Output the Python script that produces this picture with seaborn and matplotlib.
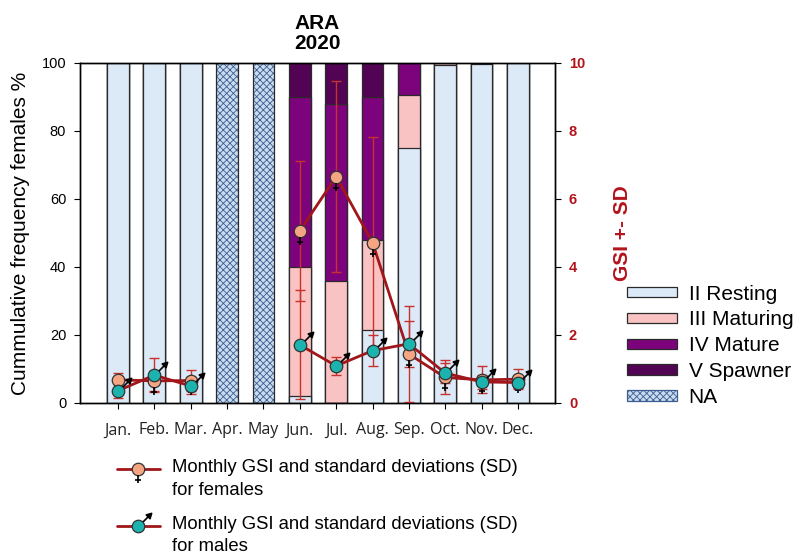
import numpy as np
import pandas as pd
import seaborn as sns
import matplotlib.pyplot as plt
from matplotlib.path import Path
from matplotlib.markers import MarkerStyle
from matplotlib.patches import Patch
from matplotlib.legend_handler import HandlerTuple
from matplotlib.transforms import Affine2D

# data
months = ['Jan.', 'Feb.', 'Mar.', 'Apr.', 'May', 'Jun.', 'Jul.', 'Aug.', 'Sep.', 'Oct.', 'Nov.', 'Dec.']
resting = [100, 100, 100, 0, 0, 2, 0, 21.5, 75, 99.5, 99.6, 100]
maturing = [0, 0, 0, 0, 0, 38, 36, 26.5, 15.5, 0.5, 0.4, 0]
mature = [0, 0, 0, 0, 0, 50, 52, 42, 9.5, 0, 0, 0]
spawner = [0, 0, 0, 0, 0, 10, 12, 10, 0, 0, 0, 0]
no_data = [0, 0, 0, 100, 100, 0, 0, 0, 0, 0, 0, 0]

gsi_f = [0.68, 0.65, 0.66, np.nan, np.nan, 5.06, 6.66, 4.72, 1.44, 0.75, 0.68, 0.70]
sd_f = [0.2, 0.3, 0.3, np.nan, np.nan, 2.05, 2.8, 3.1, 1.41, 0.5, 0.4, 0.3]
gsi_m = [0.36, 0.82, 0.5, np.nan, np.nan, 1.71, 1.09, 1.54, 1.74, 0.88, 0.62, 0.6]
sd_m = [0.2, 0.5, 0.25, np.nan, np.nan, 1.6, 0.27, 0.45, 0.68, 0.3, 0.2, 0.15]

stage_labels = ['II Resting', 'III Maturing', 'IV Mature', 'V Spawner', 'NA']

c_rest = '#dceaf8'
c_matur = '#f9c3c3'
c_mature = '#7d037d'
c_spawn = '#530353'
c_na = '#c9dbef'
c_hatch = '#3d5d90'
edge = '#2a2a2a'
line_c = '#a0161b'
err_c = '#c8322c'
c_fem = '#f4a582'
c_male = '#1cb3ae'
red_txt = '#b3141c'

sns.set_style('ticks')
plt.rcParams['font.family'] = ['Liberation Sans', 'DejaVu Sans']
plt.rcParams['hatch.linewidth'] = 0.6
plt.rcParams['text.color'] = 'black'
plt.rcParams['axes.labelcolor'] = 'black'
plt.rcParams['axes.edgecolor'] = 'black'
plt.rcParams['axes.linewidth'] = 1.0
plt.rcParams['xtick.color'] = 'black'
plt.rcParams['ytick.color'] = 'black'


class RaisedTuple(HandlerTuple):
    # put the legend symbol level with the first line of a two-line label
    def create_artists(self, legend, orig_handle, xdescent, ydescent, width, height,
                       fontsize, trans):
        trans = Affine2D().translate(0, 7) + trans
        return super().create_artists(legend, orig_handle, xdescent, ydescent, width,
                                      height, fontsize, trans)


df = pd.DataFrame({'month': months, 'resting': resting, 'maturing': maturing,
                   'mature': mature, 'spawner': spawner, 'no_data': no_data})
df['c1'] = df.resting
df['c2'] = df.c1 + df.maturing
df['c3'] = df.c2 + df.mature
df['c4'] = df.c3 + df.spawner
staged = df[df.no_data == 0]
na = df[df.no_data > 0]

fig = plt.figure(figsize=(7.97, 5.58), dpi=100)
ax = fig.add_axes([0.1004, 0.2778, 0.596, 0.6093])

# stacked bars by overdrawing cumulative totals
for col, colr in [('c4', c_spawn), ('c3', c_mature), ('c2', c_matur), ('c1', c_rest)]:
    sns.barplot(data=staged, x='month', y=col, order=months, color=colr, saturation=1,
                width=0.6, edgecolor=edge, linewidth=0.9, errorbar=None, ax=ax)

sns.barplot(data=na, x='month', y='no_data', order=months, color=c_na, saturation=1,
            width=0.6, edgecolor=c_hatch, linewidth=0, hatch='xxxxx', errorbar=None, ax=ax)
n = len(ax.patches)
sns.barplot(data=na, x='month', y='no_data', order=months, color=c_na, saturation=1,
            width=0.6, edgecolor=edge, linewidth=0.9, errorbar=None, ax=ax)
for p in ax.patches[n:]:
    p.set_facecolor('none')

ax.set_xlim(-1.045, 12.02)
ax.set_ylim(0, 100)
ax.set_yticks([0, 20, 40, 60, 80, 100])
ax.set_xlabel('')
ax.set_ylabel('Cummulative frequency females %', fontsize=15, labelpad=8)
ax.tick_params(axis='y', labelsize=10.5, length=4, pad=6)
ax.tick_params(axis='x', length=4, pad=10, labelcolor='#222222')
for t in ax.get_xticklabels():
    t.set_fontfamily('Open Sans')
    t.set_fontsize(11.5)
ax.set_title('ARA\n2020', fontsize=15, fontweight='bold', pad=10, linespacing=1.1)

# GSI on the right axis
ax2 = ax.twinx()
x = np.arange(len(months))
ax2.errorbar(x, gsi_f, yerr=sd_f, fmt='none', ecolor=err_c, elinewidth=1,
             capsize=3.5, capthick=1, zorder=2)
ax2.errorbar(x, gsi_m, yerr=sd_m, fmt='none', ecolor=err_c, elinewidth=1,
             capsize=3.5, capthick=1, zorder=2)

# sex symbols: cross below female circle, arrow on male circle
cross = Path([(0, -1), (0, -2.3), (-0.55, -1.75), (0.55, -1.75)],
             [Path.MOVETO, Path.LINETO, Path.MOVETO, Path.LINETO])
arrow = Path([(0.71, 0.71), (1.55, 1.55), (2.1, 2.1), (1.25, 1.85), (1.85, 1.25), (2.1, 2.1)],
             [Path.MOVETO, Path.LINETO, Path.MOVETO, Path.LINETO, Path.LINETO, Path.CLOSEPOLY])
ms = 9

lf, = ax2.plot(x, gsi_f, color=line_c, lw=2, marker='o', ms=ms, mfc=c_fem, mec='#333333',
               mew=0.9, zorder=3)
cf, = ax2.plot(x, gsi_f, ls='none', marker=MarkerStyle(cross), ms=ms * 2.3, mfc='black',
               mec='black', mew=1.2, zorder=3)
lm, = ax2.plot(x, gsi_m, color=line_c, lw=2, marker='o', ms=ms, mfc=c_male, mec='#333333',
               mew=0.9, zorder=4)
am, = ax2.plot(x, gsi_m, ls='none', marker=MarkerStyle(arrow), ms=ms * 2.1, mfc='black',
               mec='black', mew=1.2, zorder=4)

ax2.set_ylim(0, 10)
ax2.set_yticks([0, 2, 4, 6, 8, 10])
ax2.tick_params(axis='y', labelsize=10.5, length=4, pad=6, labelcolor=red_txt)
for t in ax2.get_yticklabels():
    t.set_fontweight('bold')
ax2.set_ylabel('GSI +- SD', fontsize=15, fontweight='bold', color=red_txt, labelpad=20)

# legends
stage_handles = [Patch(facecolor=c, edgecolor=edge, lw=0.9, label=l)
                 for c, l in zip([c_rest, c_matur, c_mature, c_spawn], stage_labels[:4])]
stage_handles.append(Patch(facecolor=c_na, edgecolor=c_hatch, hatch='xxxxx', lw=0.9,
                           label=stage_labels[4]))
fig.legend(handles=stage_handles, loc='upper left', bbox_to_anchor=(0.787, 0.49),
           frameon=False, fontsize=15, handlelength=2.4, handleheight=0.4,
           handletextpad=0.55, labelspacing=0.33, borderpad=0, borderaxespad=0)

leg2 = fig.legend(handles=[(lf, cf), (lm, am)],
                  labels=['Monthly GSI and standard deviations (SD)\nfor females',
                          'Monthly GSI and standard deviations (SD)\nfor males'],
                  handler_map={tuple: RaisedTuple()},
                  loc='upper left', bbox_to_anchor=(0.147, 0.178), frameon=False, fontsize=13.3,
                  handlelength=2.3, handletextpad=0.65, labelspacing=0.92, borderpad=0,
                  borderaxespad=0)
for t in leg2.get_texts():
    t.set_linespacing(1.45)

fig.savefig('out.png', dpi=100)
